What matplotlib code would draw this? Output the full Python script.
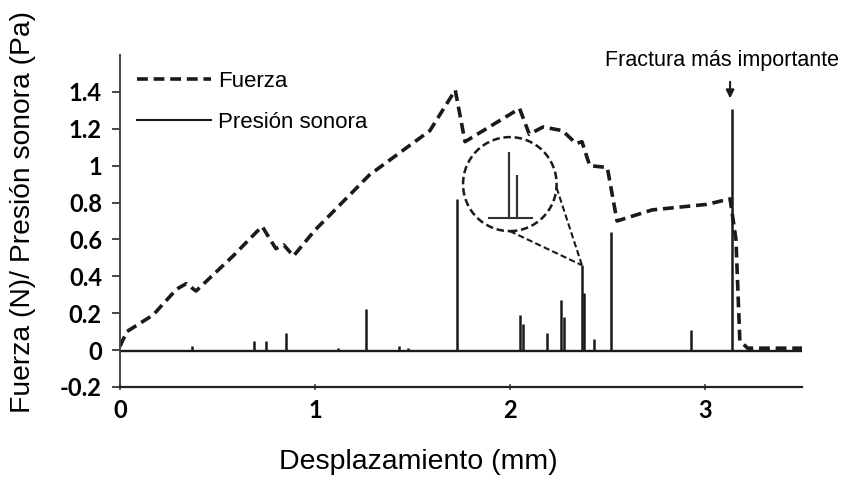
import matplotlib.pyplot as plt
from matplotlib.patches import Ellipse
from matplotlib.lines import Line2D

# Fuerza (curva discontinua)
force_x = [0.0, 0.035, 0.17, 0.29, 0.34, 0.39, 0.58, 0.70, 0.73, 0.77, 0.80, 0.84, 0.89,
           1.0, 1.28, 1.59, 1.72, 1.77, 2.05, 2.10, 2.17, 2.27, 2.34, 2.37, 2.41, 2.50,
           2.55, 2.73, 3.01, 3.13, 3.16, 3.18, 3.22, 3.5]
force_y = [0.02, 0.10, 0.19, 0.33, 0.36, 0.32, 0.51, 0.64, 0.67, 0.60, 0.55, 0.57, 0.51,
           0.65, 0.95, 1.19, 1.41, 1.13, 1.31, 1.17, 1.21, 1.19, 1.12, 1.13, 1.00, 0.99,
           0.70, 0.76, 0.79, 0.82, 0.60, 0.05, 0.01, 0.01]

# Presion sonora (picos)
spike_x = [0.37, 0.69, 0.75, 0.85, 1.12, 1.26, 1.43, 1.48, 1.73, 2.05, 2.07, 2.19,
           2.26, 2.28, 2.37, 2.38, 2.43, 2.52, 2.93, 3.14]
spike_h = [0.02, 0.05, 0.05, 0.09, 0.01, 0.22, 0.02, 0.01, 0.82, 0.19, 0.14, 0.09,
           0.27, 0.18, 0.46, 0.31, 0.06, 0.64, 0.11, 1.31]
baseline = -0.005

# zoom del pico en el circulo
inset_x = [0.47, 0.63]
inset_h = [1.0, 0.65]

xticks = [0, 1, 2, 3]
yticks = [-0.2, 0, 0.2, 0.4, 0.6, 0.8, 1, 1.2, 1.4]
ytick_labels = ['-0.2', '0', '0.2', '0.4', '0.6', '0.8', '1', '1.2', '1.4']

dash = (0, (3, 1.6))
ink = '#1a1a1a'

fig = plt.figure(figsize=(8.48, 4.83), dpi=100)
ax = fig.add_axes([0.1415, 0.199, 0.8045, 0.687])

ax.plot(force_x, force_y, color=ink, lw=2.6, ls=dash)
ax.hlines(baseline, 0, 3.5, color=ink, lw=1.7)
ax.vlines(spike_x, baseline, spike_h, color=ink, lw=1.8)

# circulo con zoom
ax.add_patch(Ellipse((2.0, 0.90), 0.48, 0.51, fill=False, ec=ink, lw=1.8, ls=(0, (3, 1.5))))
ax.plot([2.0, 2.37], [0.645, 0.46], color=ink, lw=1.5, ls=(0, (3, 1.5)))
ax.plot([2.24, 2.37], [0.88, 0.46], color=ink, lw=1.5, ls=(0, (3, 1.5)))
ins = ax.inset_axes([1.89, 0.70, 0.23, 0.38], transform=ax.transData)
ins.hlines(0, 0, 1, color='#333', lw=1.5)
ins.vlines(inset_x, 0, inset_h, color='#333', lw=1.6)
ins.set_xlim(0, 1)
ins.set_ylim(-0.05, 1.02)
ins.axis('off')

# flecha y texto
ax.annotate('', xy=(3.13, 1.35), xytext=(3.13, 1.47),
            arrowprops=dict(arrowstyle='-|>', lw=1.5, color=ink, mutation_scale=12))
ax.text(3.09, 1.515, 'Fractura más importante', ha='center', va='bottom',
        fontsize=15.5, family='Liberation Sans', clip_on=False)

handles = [Line2D([], [], color=ink, lw=2.6, ls=dash),
           Line2D([], [], color=ink, lw=1.5)]
ax.legend(handles, ['Fuerza', 'Presión sonora'], loc='upper left',
          bbox_to_anchor=(0.025, 0.953), frameon=False, handlelength=3.35,
          handletextpad=0.3, labelspacing=0.9, borderpad=0, borderaxespad=0,
          prop={'family': 'Liberation Sans', 'size': 16})

ax.set_xlim(0, 3.5)
ax.set_ylim(-0.2, 1.6)
ax.set_xticks(xticks)
ax.set_yticks(yticks)
ax.set_yticklabels(ytick_labels)
for lab in ax.get_xticklabels() + ax.get_yticklabels():
    lab.set_family('Lato')
    lab.set_fontweight('bold')
    lab.set_fontsize(17)
ax.tick_params(axis='y', direction='out', length=6, width=1.4, color='#444', pad=7)
ax.tick_params(axis='x', direction='inout', length=5, width=1.2, color='#444', pad=6)

ax.spines['top'].set_visible(False)
ax.spines['right'].set_visible(False)
ax.spines['left'].set_color('#444')
ax.spines['bottom'].set_color('#222')
ax.spines['left'].set_linewidth(1.4)
ax.spines['bottom'].set_linewidth(1.6)

ax.set_xlabel('Desplazamiento (mm)', family='Liberation Sans', fontsize=20.5, va='center')
ax.set_ylabel('Fuerza (N)/ Presión sonora (Pa)', family='Liberation Sans', fontsize=20.3,
              va='center', ha='center')
ax.xaxis.set_label_coords(0.438, -0.226)
ax.yaxis.set_label_coords(-0.142, 0.527)

plt.savefig('out.png', dpi=100)
